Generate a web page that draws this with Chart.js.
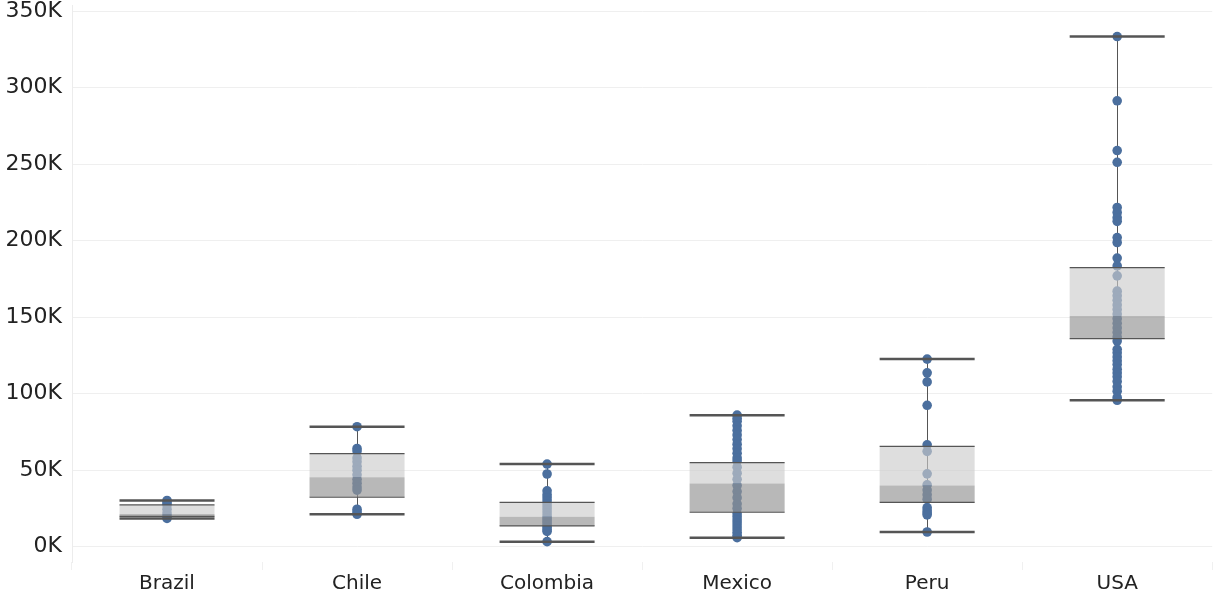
<!DOCTYPE html>
<html lang="en">
<head>
    <meta charset="UTF-8">
    <title>Box plot by country</title>
    <script src="https://cdn.jsdelivr.net/npm/chart.js"></script>
    <style>
        body {
            margin: 0;
            background: #fff;
        }
        #wrap {
            width: 1217px;
            height: 600px;
        }
    </style>
</head>
<body>
<div id="wrap"><canvas id="chart" width="1217" height="600"></canvas></div>
<script>
    const categories = ['Brazil', 'Chile', 'Colombia', 'Mexico', 'Peru', 'USA'];

    // box plot summary per country
    const minVals = [18500, 21200, 3300, 5900, 9600, 95700];
    const q1Vals = [19800, 32300, 13600, 22500, 29000, 136000];
    const medianVals = [21300, 45400, 19500, 41300, 40000, 150700];
    const q3Vals = [27300, 60800, 29000, 55000, 65500, 182400];
    const maxVals = [30200, 78400, 54000, 85900, 122600, 333400];

    // individual values per country
    const brazilPts = [30200, 28800, 27200, 24500, 22000, 20000, 18500];
    const chilePts = [78400, 64200, 62500, 58000, 55500, 52500, 50000, 47000, 44000, 41500, 39000, 37000, 24500, 22800, 21200];
    const colombiaPts = [54000, 47500, 36500, 34000, 32000, 30000, 28000, 26000, 24000, 22000, 20000, 18500, 17000, 15500, 14000, 12500, 11000, 10000, 3300];
    const mexicoPts = [86000, 84000, 82000, 79000, 76000, 73000, 70000, 67000, 64000, 61000, 58000, 56000, 52000, 48000, 44000, 40000, 36000, 32000, 28000, 25000, 21500, 19500, 17500, 15500, 13500, 11500, 9500, 7500, 5900];
    const peruPts = [122600, 113600, 107700, 92400, 66600, 62300, 47600, 40400, 37000, 34000, 31000, 25500, 23500, 22000, 20800, 9600];
    const usaPts = [333400, 291400, 258900, 251200, 221700, 218400, 215000, 212600, 202000, 198800, 188600, 183500, 177000, 167000, 164000, 161000, 158000, 155000, 152000, 149000, 146000, 143000, 140000, 137000, 134400, 129000, 126700, 124000, 121500, 119000, 116000, 113500, 111000, 108000, 104500, 101600, 97500, 95700];

    const yTickValues = [0, 50000, 100000, 150000, 200000, 250000, 300000, 350000];
    const yTickLabels = ['0K', '50K', '100K', '150K', '200K', '250K', '300K', '350K'];

    const allPts = [brazilPts, chilePts, colombiaPts, mexicoPts, peruPts, usaPts];
    const pointData = [];
    allPts.forEach((list, i) => {
        list.forEach(v => pointData.push({x: categories[i], y: v}));
    });

    const lineColor = '#555';

    const boxLines = {
        id: 'boxLines',
        beforeDatasetsDraw(chart) {
            const ctx = chart.ctx;
            const x = chart.scales.x, y = chart.scales.y;
            ctx.save();
            ctx.strokeStyle = lineColor;
            ctx.lineWidth = 1;
            categories.forEach((c, i) => {
                const px = Math.round(x.getPixelForValue(i)) + 0.5;
                ctx.beginPath();
                ctx.moveTo(px, y.getPixelForValue(minVals[i]));
                ctx.lineTo(px, y.getPixelForValue(maxVals[i]));
                ctx.stroke();
            });
            ctx.restore();
        },
        afterDatasetsDraw(chart) {
            const ctx = chart.ctx;
            const x = chart.scales.x, y = chart.scales.y;
            const bars = chart.getDatasetMeta(0).data;
            ctx.save();
            ctx.strokeStyle = lineColor;
            categories.forEach((c, i) => {
                const px = x.getPixelForValue(i);
                const half = bars[i].width / 2;
                // whisker caps
                ctx.lineWidth = 2.5;
                [minVals[i], maxVals[i]].forEach(v => {
                    const py = y.getPixelForValue(v);
                    ctx.beginPath();
                    ctx.moveTo(px - half, py);
                    ctx.lineTo(px + half, py);
                    ctx.stroke();
                });
                // box edges
                ctx.lineWidth = 1.2;
                [q1Vals[i], q3Vals[i]].forEach(v => {
                    const py = y.getPixelForValue(v);
                    ctx.beginPath();
                    ctx.moveTo(px - half, py);
                    ctx.lineTo(px + half, py);
                    ctx.stroke();
                });
            });
            ctx.restore();
        }
    };

    new Chart(document.getElementById('chart'), {
        data: {
            labels: categories,
            datasets: [
                {
                    type: 'bar',
                    data: categories.map((c, i) => [q1Vals[i], medianVals[i]]),
                    backgroundColor: 'rgba(147, 147, 147, 0.66)',
                    grouped: false,
                    barPercentage: 0.5,
                    categoryPercentage: 1.0,
                    order: 0
                },
                {
                    type: 'bar',
                    data: categories.map((c, i) => [medianVals[i], q3Vals[i]]),
                    backgroundColor: 'rgba(203, 203, 203, 0.64)',
                    grouped: false,
                    barPercentage: 0.5,
                    categoryPercentage: 1.0,
                    order: 0
                },
                {
                    type: 'line',
                    data: pointData,
                    showLine: false,
                    pointRadius: 4.8,
                    pointBorderWidth: 0,
                    pointBackgroundColor: '#4b6f9e',
                    order: 1
                }
            ]
        },
        options: {
            responsive: false,
            animation: false,
            layout: {
                padding: {top: 5, left: 0, right: 0, bottom: 0}
            },
            plugins: {
                legend: {display: false},
                tooltip: {enabled: false}
            },
            scales: {
                x: {
                    type: 'category',
                    offset: true,
                    grid: {
                        display: true,
                        offset: true,
                        drawOnChartArea: false,
                        drawTicks: true,
                        tickLength: 8,
                        color: '#f0f0f0'
                    },
                    border: {display: false},
                    ticks: {
                        padding: 2,
                        color: '#222',
                        font: {family: 'DejaVu Sans', size: 20}
                    },
                    afterFit(scale) {
                        scale.height = 38;
                        scale.paddingLeft = 0;
                        scale.paddingRight = 0;
                    }
                },
                y: {
                    min: -10000,
                    max: 354000,
                    afterBuildTicks(scale) {
                        scale.ticks = yTickValues.map(v => ({value: v}));
                    },
                    grid: {
                        color: '#efefef',
                        drawTicks: false
                    },
                    border: {display: true, color: '#ececec'},
                    ticks: {
                        padding: 10,
                        color: '#222',
                        font: {family: 'DejaVu Sans', size: 22},
                        callback: (v) => yTickLabels[yTickValues.indexOf(v)]
                    },
                    afterFit(scale) {
                        scale.width = 72;
                        scale.paddingTop = 0;
                        scale.paddingBottom = 0;
                    }
                }
            }
        },
        plugins: [boxLines]
    });
</script>
</body>
</html>
